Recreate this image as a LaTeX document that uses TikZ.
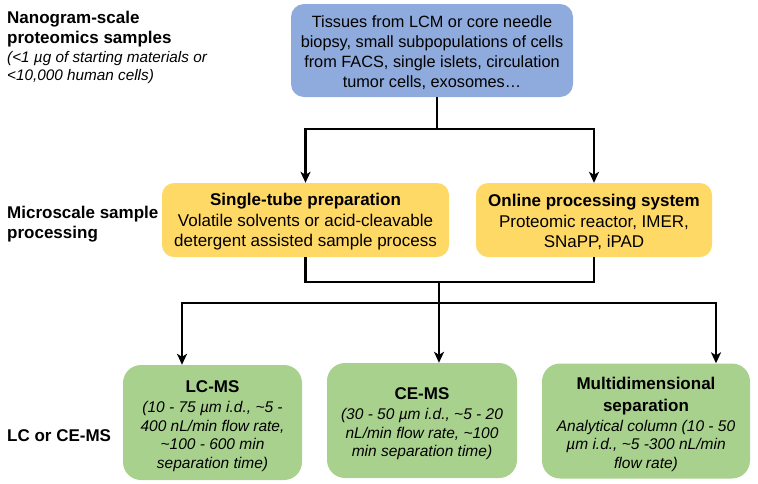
\documentclass[tikz,border=0pt]{standalone}
\usepackage{fontspec}
\setmainfont{Liberation Sans}
\usetikzlibrary{arrows.meta}
\definecolor{cBlue}{HTML}{8FAADC}
\definecolor{cYellow}{HTML}{FFD966}
\definecolor{cGreen}{HTML}{A9D18E}
\newcommand{\hdtext}[1]{{\fontsize{17}{20}\selectfont\bfseries\upshape #1}}
\newcommand{\topstrut}[1]{\rule{0pt}{#1}}
\begin{document}
\begin{tikzpicture}[x=1pt,y=-1pt,
  box/.style={rectangle, align=center, inner sep=0pt, draw=none},
  bluebox/.style={box, fill=cBlue, rounded corners=13pt, minimum width=282pt, minimum height=93pt, font=\fontsize{16.3}{20}\selectfont},
  yellowbox/.style={box, fill=cYellow, rounded corners=12pt, minimum height=74pt, font=\fontsize{17}{20.5}\selectfont},
  greenbox/.style={box, fill=cGreen, rounded corners=18pt, minimum height=115pt, font=\fontsize{15.5}{18.5}\selectfont\itshape},
  sidelabel/.style={anchor=west, align=left, inner sep=0pt, font=\fontsize{17}{20}\selectfont\bfseries},
  line/.style={line width=2.4pt, black},
  arr/.style={line, -{Stealth[length=11pt,width=10pt,inset=3pt]}}
]
\useasboundingbox (0,0) rectangle (758,483);

% side labels
\node[sidelabel] (lab1) at (7,29) {Nanogram-scale\\proteomics samples};
\node[sidelabel, font=\fontsize{15.3}{18}\selectfont\itshape] (lab1b) at (7,68) {(<1 µg of starting materials or\\<10,000 human cells)};
\node[sidelabel] (lab2) at (7,224) {Microscale sample\\processing};
\node[sidelabel] (lab3) at (7,436) {LC or CE-MS};

% boxes
\node[bluebox] (top) at (432,50.5) {\topstrut{16pt}Tissues from LCM or core needle\\biopsy, small subpopulations of cells\\from FACS, single islets, circulation\\tumor cells, exosomes…};

\node[yellowbox, minimum width=287pt] (ytl) at (305.5,220) {\topstrut{16.5pt}\textbf{Single-tube preparation}\\Volatile solvents or acid-cleavable\\detergent assisted sample process};
\node[yellowbox, minimum width=236pt] (ytr) at (594,220) {\topstrut{16.5pt}\textbf{Online processing system}\\Proteomic reactor, IMER,\\SNaPP, iPAD};

\node[greenbox, minimum width=179pt] (g1) at (212.5,422.5) {\topstrut{19pt}\hdtext{LC-MS}\\[1.5pt](10 - 75 µm i.d., \textasciitilde5 -\\400 nL/min flow rate,\\\textasciitilde100 - 600 min\\separation time)};
\node[greenbox, minimum width=190pt] (g2) at (422,420.5) {\topstrut{19pt}\hdtext{CE-MS}\\[1.5pt](30 - 50 µm i.d., \textasciitilde5 - 20\\nL/min flow rate, \textasciitilde100\\min separation time)};
\node[greenbox, minimum width=208pt] (g3) at (646,421) {\topstrut{19pt}\hdtext{Multidimensional}\\[3pt]\hdtext{separation}\\[1.5pt]Analytical column (10 - 50\\µm i.d., \textasciitilde5 -300 nL/min\\flow rate)};

% connectors
\coordinate (j1) at (437,129);
\coordinate (j2) at (439,282);
\coordinate (j3) at (439,303);
\coordinate (c1) at (182,303);
\coordinate (c3) at (716,303);

\draw[line] (j1 |- top.south) -- (j1);
\draw[arr] (j1) -| (ytl.north);
\draw[arr] (j1) -| (ytr.north);

\draw[line] (ytl.south) |- (j2);
\draw[line] (ytr.south) |- (j2);
\draw[line] (j2) -- (j3);

\draw[arr] (j3) -| (c1 |- g1.north);
\draw[arr] (j3) -- (j3 |- g2.north);
\draw[arr] (j3) -| (c3 |- g3.north);
\end{tikzpicture}
\end{document}
